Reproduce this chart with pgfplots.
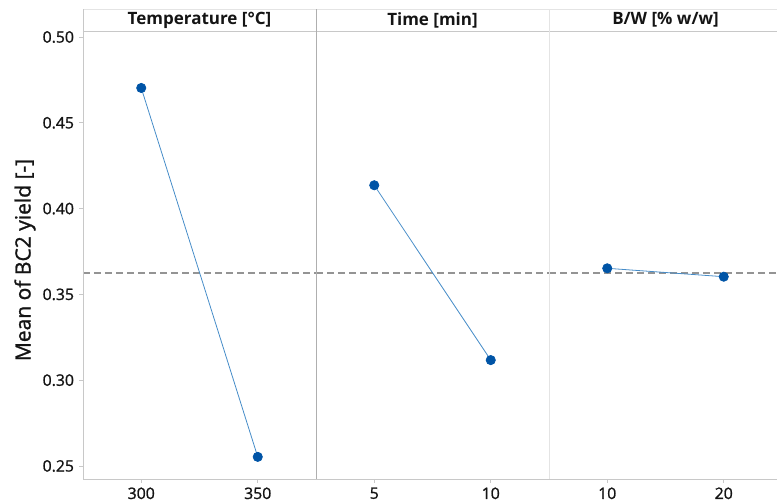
\documentclass[border=0pt]{standalone}
\usepackage{fontspec}
\setmainfont{Open Sans}
\newfontfamily\semib[FakeBold=1.2]{Open Sans}
\usepackage{pgfplots}
\pgfplotsset{compat=1.18}
\definecolor{frame}{RGB}{200,200,200}
\definecolor{lightframe}{RGB}{228,228,228}
\definecolor{divider}{RGB}{175,175,175}
\definecolor{meanline}{RGB}{148,148,148}
\definecolor{dataline}{RGB}{70,140,200}
\definecolor{datamark}{RGB}{0,84,166}
\definecolor{txt}{RGB}{20,20,20}
\begin{document}
\begin{tikzpicture}
\clip (-83pt,-22pt) rectangle (694pt,479pt);
\pgfplotsset{
  panel/.style={
    scale only axis, width=233pt, height=448pt,
    xmin=0, xmax=1, ymin=0.2424, ymax=0.5035,
    axis line style={draw=frame, line width=0.8pt},
    tick style={draw=frame, line width=0.8pt},
    tick align=outside, major tick length=3.5pt,
    xtick pos=bottom, ytick pos=left,
    xtick={0.25,0.75},
    ytick={0.25,0.30,0.35,0.40,0.45,0.50},
    ticklabel style={font=\semib\fontsize{15.8}{18}\selectfont, text=txt},
    /pgf/number format/assume math mode=true,
    /pgf/number format/fixed, /pgf/number format/fixed zerofill,
    /pgf/number format/precision=2,
    xticklabel style={yshift=-1.5pt},
    yticklabel style={xshift=-2pt},
    clip=false,
  },
  meanstyle/.style={meanline, line width=2pt, dash pattern=on 7pt off 4pt},
  datastyle/.style={dataline, line width=0.8pt, mark=*, mark size=4.6pt,
    mark options={draw=datamark, fill=datamark, solid}},
}
% Panel 1: Temperature
\begin{axis}[panel, name=p1, at={(0pt,0pt)}, anchor=south west,
  xticklabels={300,350}]
  \addplot[meanstyle] coordinates {(0,0.3627) (1,0.3627)};
  \addplot[datastyle] coordinates {(0.25,0.4703) (0.75,0.2553)};
\end{axis}
% Panel 2: Time
\begin{axis}[panel, name=p2, at={(233pt,0pt)}, anchor=south west,
  xticklabels={5,10}, ytick=\empty]
  \addplot[meanstyle] coordinates {(0,0.3627) (1,0.3627)};
  \addplot[datastyle] coordinates {(0.25,0.4136) (0.75,0.3117)};
\end{axis}
% Panel 3: B/W
\begin{axis}[panel, name=p3, at={(466pt,0pt)}, anchor=south west,
  xticklabels={10,20}, ytick=\empty]
  \addplot[meanstyle] coordinates {(0,0.3627) (1,0.3627)};
  \addplot[datastyle] coordinates {(0.25,0.3652) (0.75,0.3603)};
\end{axis}
% headers
\draw[lightframe, line width=0.8pt] (p1.north west) -- ([yshift=22pt]p1.north west) -- ([yshift=22pt]p3.north east);
\draw[frame, line width=0.8pt] (p1.north west) -- (p3.north east);
\draw[divider, line width=0.9pt] (p1.south east) -- ([yshift=22pt]p1.north east);
\draw[lightframe, line width=0.9pt] (p2.south east) -- ([yshift=22pt]p2.north east);
\draw[frame, line width=0.8pt] (p1.south west) -- ([yshift=22pt]p1.north west);
\node[font=\bfseries\fontsize{17}{20}\selectfont, text=txt] at ([yshift=11pt]p1.north) {Temperature [°C]};
\node[font=\bfseries\fontsize{17}{20}\selectfont, text=txt] at ([yshift=11pt]p2.north) {Time [min]};
\node[font=\bfseries\fontsize{17}{20}\selectfont, text=txt] at ([yshift=11pt]p3.north) {B/W [\% w/w]};
% y label
\node[font=\semib\fontsize{21}{24}\selectfont, text=txt, rotate=90] at ([xshift=-58pt,yshift=-5pt]p1.west) {Mean of BC2 yield [-]};
\end{tikzpicture}
\end{document}
